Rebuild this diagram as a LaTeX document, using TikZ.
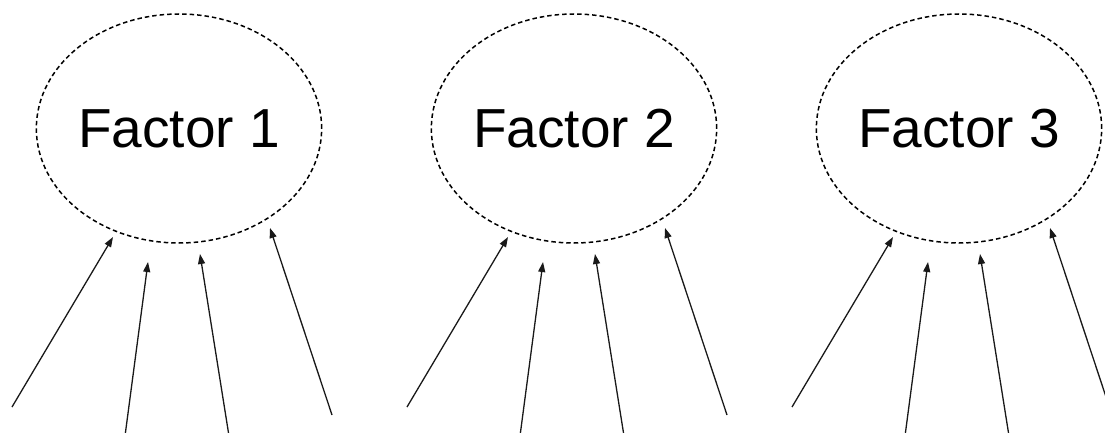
\documentclass[tikz,border=0pt]{standalone}
\usepackage{fontspec}
\setmainfont{Liberation Sans}
\usetikzlibrary{shapes.geometric,arrows.meta}
\begin{document}
\begin{tikzpicture}[x=1pt,y=-1pt,
  factor/.style={ellipse,draw=black,dash pattern=on 4.5pt off 3pt,line width=1.5pt,
    minimum width=268pt,minimum height=229pt,inner sep=0pt,
    font=\fontsize{55}{60}\selectfont},
  indicator/.style={line width=1.3pt,draw=black!90,-{Triangle[length=10pt,width=7pt]}}]
\useasboundingbox (0,0) rectangle (1105,433);
\clip (0,0) rectangle (1105,433);
\foreach \i/\dx in {1/0,2/395,3/780}{
  % latent factor
  \node[factor] (f\i) at (179+\dx,128.5) {Factor \i};
  % indicator arrows (tail -> head)
  \coordinate (t\i a) at (12+\dx,407);  \coordinate (h\i a) at (113+\dx,237);
  \coordinate (t\i b) at (125+\dx,436); \coordinate (h\i b) at (148+\dx,262);
  \coordinate (t\i c) at (229+\dx,436); \coordinate (h\i c) at (200+\dx,254);
  \coordinate (t\i d) at (332+\dx,415); \coordinate (h\i d) at (270+\dx,228);
  \draw[indicator] (t\i a) -- (h\i a);
  \draw[indicator] (t\i b) -- (h\i b);
  \draw[indicator] (t\i c) -- (h\i c);
  \draw[indicator] (t\i d) -- (h\i d);
}
\end{tikzpicture}
\end{document}
